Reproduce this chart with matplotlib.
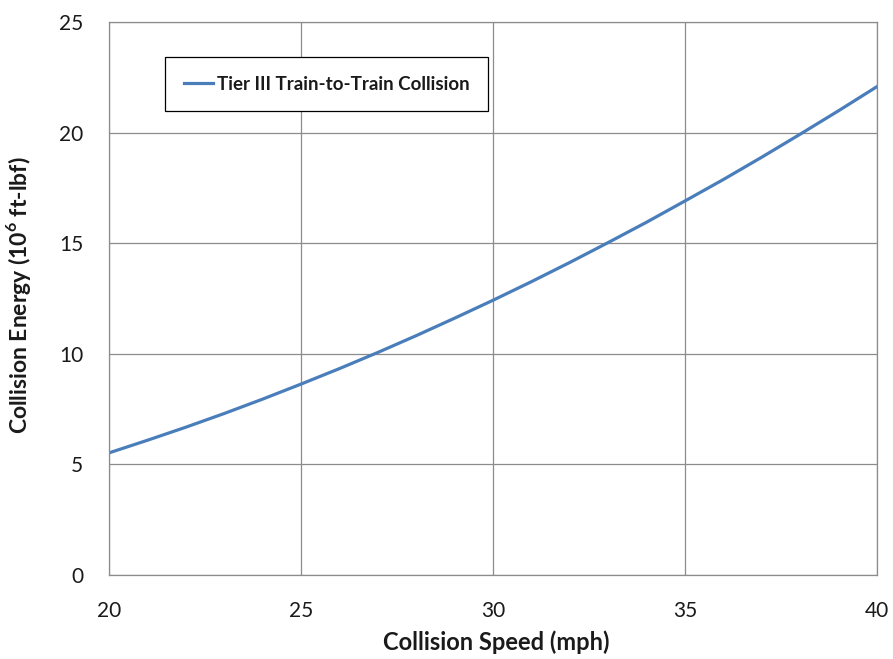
import matplotlib
matplotlib.use("Agg")
import matplotlib.pyplot as plt

plt.rcParams['font.family'] = ['Lato', 'DejaVu Sans']
plt.rcParams['mathtext.fontset'] = 'custom'
plt.rcParams['mathtext.rm'] = 'Lato'
plt.rcParams['mathtext.bf'] = 'Lato:bold'

speed_mph = [20, 21, 22, 23, 24, 25, 26, 27, 28, 29, 30,
             31, 32, 33, 34, 35, 36, 37, 38, 39, 40]
energy = [5.52, 6.09, 6.68, 7.30, 7.95, 8.63, 9.33, 10.06, 10.82, 11.61, 12.42,
          13.26, 14.13, 15.03, 15.95, 16.91, 17.88, 18.89, 19.93, 20.99, 22.08]
series_label = "Tier III Train-to-Train Collision"
x_ticks = [20, 25, 30, 35, 40]
y_ticks = [0, 5, 10, 15, 20, 25]

fig = plt.figure(figsize=(8.93, 6.59), dpi=100)
ax = fig.add_axes([0.122, 0.1275, 0.860, 0.839])

ax.plot(speed_mph, energy, color='#4a7ebb', lw=2.3, label=series_label)

ax.set_xlim(20, 40)
ax.set_ylim(0, 25)
ax.set_xticks(x_ticks)
ax.set_yticks(y_ticks)
ax.tick_params(axis='both', length=0, labelsize=15, pad=18.5, colors='#1a1a1a')
ax.grid(True, color='#8c8c8c', lw=0.9)
ax.set_axisbelow(True)
for s in ax.spines.values():
    s.set_color('#8c8c8c')
    s.set_linewidth(0.9)

ax.set_xlabel('Collision Speed (mph)', fontsize=17, fontweight='bold', color='#1a1a1a')
ax.set_ylabel(r'Collision Energy (10$^{\mathbf{6}}$ ft-lbf)', fontsize=16.5,
              fontweight='bold', color='#1a1a1a')
ax.xaxis.set_label_coords(0.504, -0.0995)
ax.yaxis.set_label_coords(-0.099, 0.506)

leg = ax.legend(loc='upper left', bbox_to_anchor=(0.073, 0.937, 0.42, 0.0),
                mode='expand', borderaxespad=0, fancybox=False, framealpha=1,
                edgecolor='black', handlelength=1.55,
                handletextpad=0.2, borderpad=1.0,
                prop={'weight': 'bold', 'size': 13.5})
leg.get_frame().set_linewidth(0.9)
for t in leg.get_texts():
    t.set_color('#1a1a1a')

fig.savefig('out.png', dpi=100)
